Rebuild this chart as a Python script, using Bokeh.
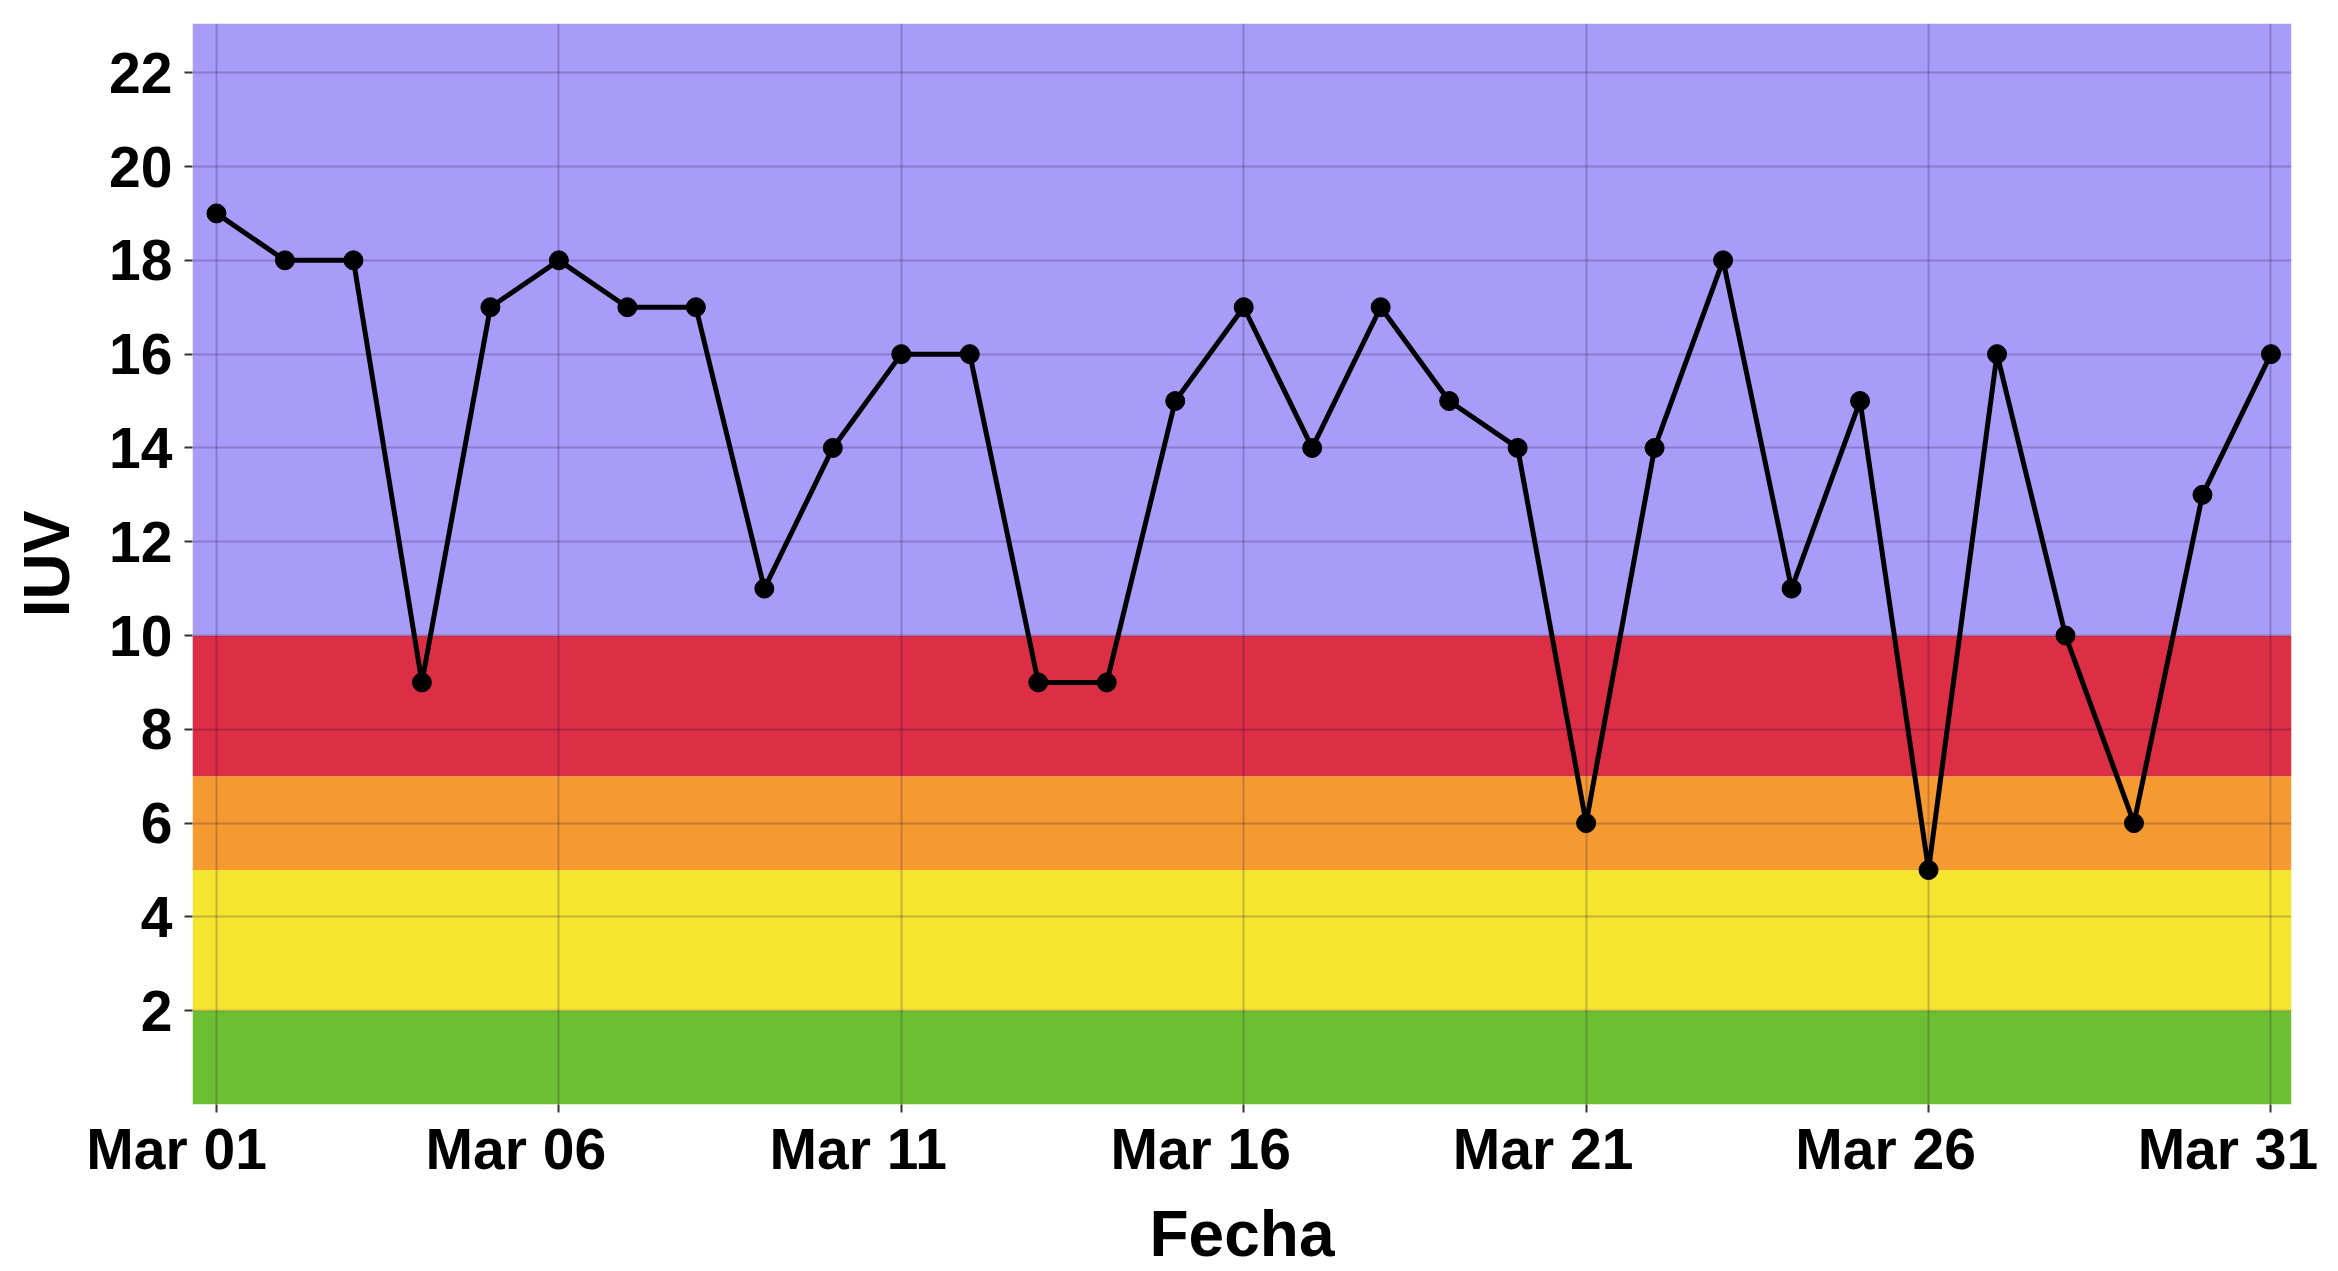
import datetime as dt
from bokeh.plotting import figure
from bokeh.models import (ColumnDataSource, Range1d, FixedTicker, DatetimeTickFormatter,
                          BoxAnnotation, DatetimeAxis)
from bokeh.embed import file_html
from bokeh.resources import INLINE

# ---- data ----
days = list(range(1, 32))
iuv = [19, 18, 18, 9, 17, 18, 17, 17, 11, 14, 16, 16, 9, 9, 15, 17, 14, 17, 15, 14,
       6, 14, 18, 11, 15, 5, 16, 10, 6, 13, 16]
tick_days = [1, 6, 11, 16, 21, 26, 31]
y_ticks = [2, 4, 6, 8, 10, 12, 14, 16, 18, 20, 22]
band_bottoms = [0, 2, 5, 7, 10]
band_tops = [2, 5, 7, 10, None]
band_colors = ["#6CBF30", "#F4E52E", "#F59A30", "#DC2E45", "#A99CF9"]


def ms(d):
    return dt.datetime(2023, 3, d, tzinfo=dt.timezone.utc).timestamp() * 1000


dates = [ms(d) for d in days]
DAY = 86400000.0
FRAME_W = 2099
x_start = dates[0] - 0.35 * DAY
x_end = dates[-1] + 0.30 * DAY
px_per_ms = FRAME_W / (x_end - x_start)
SHIFT_PX = 43            # labels sit ~43px left of their ticks in the original
NBSP_PX = 0.278 * 57     # width of a no-break space at the label size

src = ColumnDataSource(data=dict(x=dates, y=iuv))
tick_x = [ms(d) for d in tick_days]
tick_text = [dt.datetime(2023, 3, d).strftime("%b %d") for d in tick_days]

# label anchor positions (kept inside the range; any remaining shift done with padding)
label_x, label_txt = [], []
for t, txt in zip(tick_x, tick_text):
    lx = max(t - SHIFT_PX / px_per_ms, x_start)
    residual_px = (lx - (t - SHIFT_PX / px_per_ms)) * px_per_ms
    n = int(round(2 * residual_px / NBSP_PX))
    label_x.append(lx)
    label_txt.append(txt + "\u00a0" * n)

FONT = "Liberation Sans"

p = figure(x_axis_type="datetime", output_backend="svg", toolbar_location=None,
           frame_width=FRAME_W, frame_height=1081,
           min_border_left=192, min_border_top=23, min_border_right=40, min_border_bottom=166,
           x_range=Range1d(x_start, x_end),
           y_range=Range1d(0, 23.05))
p.background_fill_color = "white"
p.border_fill_color = "white"
p.outline_line_color = None

for b, t, c in zip(band_bottoms, band_tops, band_colors):
    box = BoxAnnotation(bottom=b, top=t, fill_color=c, fill_alpha=1.0, line_color=None,
                        level="image")
    p.add_layout(box)

p.line("x", "y", source=src, line_color="black", line_width=5)
p.scatter("x", "y", source=src, size=19, fill_color="black", line_color="black")

# grids
for g in (p.xgrid, p.ygrid):
    g.grid_line_color = "#1a0a40"
    g.grid_line_alpha = 0.22
    g.grid_line_width = 2
    g.level = "underlay"

p.xaxis.ticker = FixedTicker(ticks=tick_x)
p.yaxis.ticker = FixedTicker(ticks=y_ticks)

for ax in (p.xaxis[0], p.yaxis[0]):
    ax.axis_line_color = None
    ax.major_tick_line_color = "#333333"
    ax.major_tick_line_width = 2
    ax.major_tick_out = 8
    ax.major_tick_in = 0
    ax.minor_tick_line_color = None
    ax.major_label_text_font = FONT
    ax.major_label_text_font_style = "bold"
    ax.major_label_text_font_size = "57px"
    ax.major_label_text_color = "black"
    ax.axis_label_text_font = FONT
    ax.axis_label_text_font_style = "bold"
    ax.axis_label_text_font_size = "64px"
    ax.axis_label_text_color = "black"

# tick marks only on the main x axis
p.xaxis.major_label_text_alpha = 0
p.xaxis.major_label_text_color = None
p.xaxis.major_label_standoff = 0

# second x axis carrying the tick labels and the title
lab_ax = DatetimeAxis(ticker=FixedTicker(ticks=label_x),
                      formatter=DatetimeTickFormatter(days="%b %d", hours="%b %d"))
lab_ax.major_label_overrides = {lx: txt for lx, txt in zip(label_x, label_txt)}
lab_ax.axis_line_color = None
lab_ax.major_tick_line_color = None
lab_ax.minor_tick_line_color = None
lab_ax.major_tick_out = 0
lab_ax.major_tick_in = 0
lab_ax.major_label_standoff = 4
lab_ax.major_label_text_font = FONT
lab_ax.major_label_text_font_style = "bold"
lab_ax.major_label_text_font_size = "57px"
lab_ax.major_label_text_color = "black"
lab_ax.axis_label = "Fecha"
lab_ax.axis_label_text_font = FONT
lab_ax.axis_label_text_font_style = "bold"
lab_ax.axis_label_text_font_size = "64px"
lab_ax.axis_label_text_color = "black"
lab_ax.axis_label_standoff = 14
p.add_layout(lab_ax, "below")

p.yaxis.axis_label = "IUV"
p.yaxis.major_label_standoff = 12
p.yaxis.axis_label_standoff = 23

open("out.html", "w").write(file_html(p, INLINE))
